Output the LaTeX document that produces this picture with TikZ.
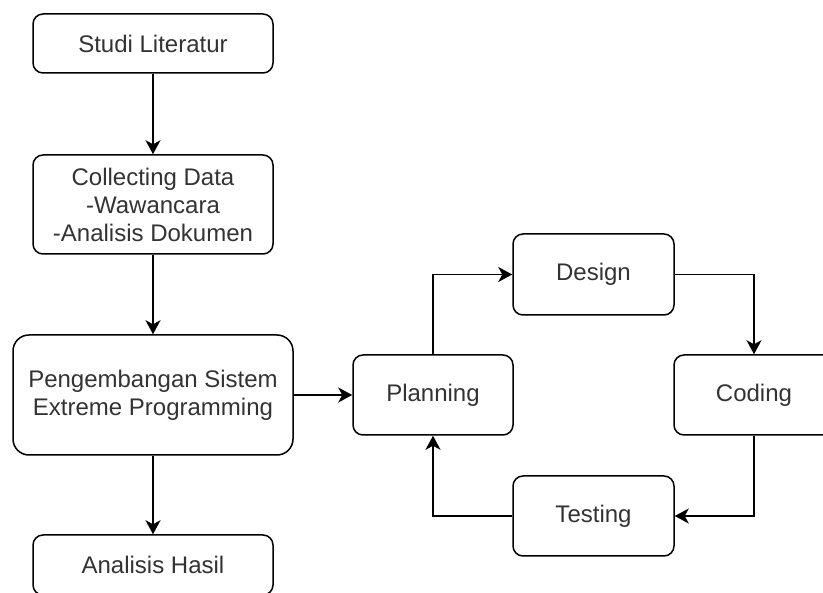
\documentclass[tikz,border=0pt]{standalone}
\usepackage{fontspec}
\setmainfont{Liberation Sans}
\usetikzlibrary{arrows.meta}
\definecolor{txt}{HTML}{333333}
\tikzset{
  box/.style={draw=black, line width=1.5pt, rounded corners=10pt, fill=white,
    align=center, inner sep=0pt, text=txt,
    font=\fontsize{24pt}{28pt}\selectfont},
  arr/.style={draw=black, line width=1.5pt,
    -{Stealth[length=14pt, width=15pt, inset=4pt]}},
}
\begin{document}
\begin{tikzpicture}[x=1pt, y=-1pt]
\useasboundingbox (0,0) rectangle (823,593);
\clip (0,0) rectangle (823,593);

% left column: research stages
\node[box, minimum width=240pt, minimum height=59pt] (studi) at (153,43.5) {Studi Literatur};
\node[box, minimum width=240pt, minimum height=99pt] (collect) at (153,204.5)
  {Collecting Data\\-Wawancara\\-Analisis Dokumen};
\node[box, minimum width=280pt, minimum height=120pt, rounded corners=16pt] (peng) at (153,395)
  {Pengembangan Sistem\\Extreme Programming};
\node[box, minimum width=240pt, minimum height=60pt] (hasil) at (153,565) {Analisis Hasil};

% right side: XP cycle
\node[box, minimum width=160pt, minimum height=80pt] (plan) at (433,395) {Planning};
\node[box, minimum width=161pt, minimum height=81pt] (design) at (593.5,274.5) {Design};
\node[box, minimum width=160pt, minimum height=80pt] (coding) at (754,395) {Coding};
\node[box, minimum width=161pt, minimum height=80pt] (testing) at (593.5,516) {Testing};

% connectors
\draw[arr] (studi) -- (collect);
\draw[arr] (collect) -- (peng);
\draw[arr] (peng) -- (hasil);
\draw[arr] (peng) -- (plan);
\draw[arr] (plan.north) |- (design.west);
\draw[arr] (design.east) -| (coding.north);
\draw[arr] (coding.south) |- (testing.east);
\draw[arr] (testing.west) -| (plan.south);
\end{tikzpicture}
\end{document}
